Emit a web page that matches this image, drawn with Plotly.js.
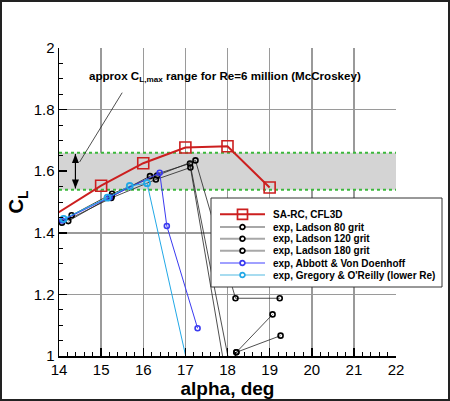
<!DOCTYPE html>
<html><head><meta charset="utf-8">
<script src="https://cdn.plot.ly/plotly-3.0.1.min.js"></script>
<style>
html,body{margin:0;padding:0;background:#fff}
#wrap{position:relative;width:450px;height:401px}
#chart{width:450px;height:401px}
#frame{position:absolute;left:0;top:0;width:450px;height:401px;box-sizing:border-box;border:2px solid #222;pointer-events:none}
</style>
</head><body><div id="wrap"><div id="chart"></div><div id="frame"></div></div>
<script>
// ---- data ----
const saAlpha   = [13, 15, 16, 17, 18, 19];
const saCL      = [1.381, 1.553, 1.626, 1.677, 1.681, 1.547];
const l80Alpha  = [14.07, 15.24, 16.30, 17.12, 17.97, 18.21, 19.26];
const l80CL     = [1.433, 1.513, 1.573, 1.612, 0.93, 1.012, 1.066];
const l120Alpha = [14.22, 15.25, 16.16, 17.11, 18.08, 18.21, 19.07];
const l120CL    = [1.438, 1.518, 1.584, 1.625, 0.95, 1.012, 1.135];
const l180Alpha = [14.30, 15.26, 16.33, 17.24, 18.19, 19.24];
const l180CL    = [1.457, 1.527, 1.586, 1.635, 1.1875, 1.1875];
const avdAlpha  = [14.08, 15.20, 16.39, 16.56, 17.29];
const avdCL     = [1.440, 1.515, 1.595, 1.422, 1.090];
const goAlpha   = [14.11, 15.15, 15.68, 16.09, 17.19];
const goCL      = [1.445, 1.514, 1.552, 1.561, 0.888];
const bandAlpha = [14, 22];
const bandCL    = [1.54, 1.66];
const seriesNames = ['SA-RC, CFL3D', 'exp, Ladson 80 grit', 'exp, Ladson 120 grit',
  'exp, Ladson 180 grit', 'exp, Abbott & Von Doenhoff', "exp, Gregory & O'Reilly (lower Re)"];
const noteText = 'approx C<sub>L,max</sub> range for Re=6 million (McCroskey)';

const FONT = 'Liberation Sans, Arial, Helvetica, sans-serif';
const RED = '#cc1f1f', BLUE = '#3a3af0', CYAN = '#22a8e6', GREEN = '#3cb83c';

function tr(x, y, name, lc, lw, sym, ms, mc, mlw) {
  return {x: x, y: y, name: name, type: 'scatter', mode: 'lines+markers',
    line: {color: lc, width: lw},
    marker: {symbol: sym, size: ms, color: mc, line: {color: mc, width: mlw}},
    showlegend: false, hoverinfo: 'skip'};
}
const traces = [
  {x: [bandAlpha[0], bandAlpha[1], bandAlpha[1], bandAlpha[0]], y: [bandCL[0], bandCL[0], bandCL[1], bandCL[1]],
   type: 'scatter', mode: 'none', fill: 'toself', fillcolor: '#d4d4d4', showlegend: false, hoverinfo: 'skip'},
  {x: bandAlpha, y: [bandCL[0], bandCL[0]], type: 'scatter', mode: 'lines',
   line: {color: GREEN, width: 2, dash: 'dot'}, showlegend: false, hoverinfo: 'skip'},
  {x: bandAlpha, y: [bandCL[1], bandCL[1]], type: 'scatter', mode: 'lines',
   line: {color: GREEN, width: 2, dash: 'dot'}, showlegend: false, hoverinfo: 'skip'},
  tr(l80Alpha, l80CL, seriesNames[1], '#222', 0.8, 'circle-open', 5, '#000', 1.6),
  tr(l120Alpha, l120CL, seriesNames[2], '#222', 0.8, 'circle-open', 5, '#000', 1.6),
  tr(l180Alpha, l180CL, seriesNames[3], '#222', 0.8, 'circle-open', 5, '#000', 1.6),
  tr(avdAlpha, avdCL, seriesNames[4], BLUE, 1, 'circle-open', 5, BLUE, 1.6),
  tr(goAlpha, goCL, seriesNames[5], CYAN, 1, 'circle-open', 6, CYAN, 1.8),
  tr(saAlpha, saCL, seriesNames[0], RED, 2, 'square-open', 11, RED, 1.6)
];

// plot area geometry
const M = {l: 59, r: 54, t: 48, b: 45};
const W = 450, H = 401;
const PW = W - M.l - M.r, PH = H - M.t - M.b;
const px2x = p => (p - M.l) / PW;
const px2y = p => (H - M.b - p) / PH;

const arrX = 14.39;
const shapes = [
  // leader line from note to arrow
  {type: 'line', xref: 'x', yref: 'y', x0: 15.50, y0: 1.855, x1: 14.49, y1: 1.63,
   line: {color: '#222', width: 0.8}, layer: 'above'},
  // double-headed arrow spanning the band
  {type: 'line', xref: 'x', yref: 'y', x0: arrX, x1: arrX, y0: bandCL[0] + 0.004, y1: bandCL[1] - 0.004,
   line: {color: '#000', width: 1.2}, layer: 'above'},
  {type: 'path', xref: 'x', yref: 'y', xsizemode: 'pixel', ysizemode: 'pixel',
   xanchor: arrX, yanchor: bandCL[1] - 0.004, path: 'M0,0 L-3.5,-9 L3.5,-9 Z',
   fillcolor: '#000', line: {width: 0}, layer: 'above'},
  {type: 'path', xref: 'x', yref: 'y', xsizemode: 'pixel', ysizemode: 'pixel',
   xanchor: arrX, yanchor: bandCL[0] + 0.004, path: 'M0,0 L-3.5,9 L3.5,9 Z',
   fillcolor: '#000', line: {width: 0}, layer: 'above'}
];

// custom legend
const legX0 = 211, legX1 = 442, legY0 = 198, legY1 = 287;
shapes.push({type: 'rect', xref: 'paper', yref: 'paper', x0: px2x(legX0), x1: px2x(legX1),
  y0: px2y(legY1), y1: px2y(legY0), fillcolor: '#fff', line: {color: '#333', width: 1}, layer: 'above'});
const rowY = [214.3, 227, 238.7, 250.7, 263, 275];
const legLineCol = [RED, '#a8a8a8', '#a8a8a8', '#a8a8a8', '#a0a0ff', '#a8dcf0'];
const legMarkCol = [RED, '#000', '#000', '#000', BLUE, CYAN];
const annotations = [];
seriesNames.forEach((n, i) => {
  const yy = px2y(rowY[i]);
  shapes.push({type: 'line', xref: 'paper', yref: 'paper', x0: px2x(220), x1: px2x(265), y0: yy, y1: yy,
    line: {color: legLineCol[i], width: 2}, layer: 'above'});
  const r = i === 0 ? 5 : 2.4;
  shapes.push({type: i === 0 ? 'rect' : 'circle', xref: 'paper', yref: 'paper',
    xsizemode: 'pixel', ysizemode: 'pixel', xanchor: px2x(242.5), yanchor: yy,
    x0: -r, x1: r, y0: -r, y1: r, fillcolor: i === 0 ? 'rgba(0,0,0,0)' : '#fff',
    line: {color: legMarkCol[i], width: 1.7}, layer: 'above'});
  annotations.push({xref: 'paper', yref: 'paper', x: px2x(271), y: yy, xanchor: 'left', yanchor: 'middle',
    text: n, showarrow: false, font: {family: FONT, size: 10, color: '#000', weight: 'bold'}});
});

annotations.push({xref: 'x', yref: 'y', x: 17.94, y: 1.907, text: noteText, showarrow: false,
  xanchor: 'center', yanchor: 'middle', font: {family: FONT, size: 11.6, color: '#000', weight: 'bold'}});

const layout = {
  width: W, height: H, margin: M, paper_bgcolor: '#fff', plot_bgcolor: '#fff',
  showlegend: false, font: {family: FONT, color: '#000'},
  xaxis: {range: [14, 22], dtick: 1, tick0: 14, ticks: 'inside', ticklen: 8, tickwidth: 1.5, tickcolor: '#000',
    minor: {dtick: 0.2, ticks: 'inside', ticklen: 4, tickwidth: 1, tickcolor: '#000', showgrid: false},
    showgrid: true, gridcolor: '#9a9a9a', gridwidth: 1.5, zeroline: false, ticklabelstandoff: -1,
    showline: true, linecolor: '#000', linewidth: 2, tickfont: {size: 15, family: FONT},
    title: {text: 'alpha, deg', font: {size: 19, weight: 'bold', family: FONT}, standoff: 0}},
  yaxis: {range: [1, 2], dtick: 0.2, tick0: 1, ticks: 'inside', ticklen: 8, tickwidth: 1.5, tickcolor: '#000',
    minor: {dtick: 0.05, ticks: 'inside', ticklen: 4, tickwidth: 1, tickcolor: '#000', showgrid: false},
    showgrid: true, gridcolor: '#9a9a9a', gridwidth: 1.5, zeroline: false,
    showline: true, linecolor: '#000', linewidth: 1.5, tickfont: {size: 15, family: FONT},
    title: {text: 'C<sub>L</sub>', font: {size: 20, weight: 'bold', family: FONT}, standoff: 4}},
  shapes: shapes, annotations: annotations
};
Plotly.newPlot('chart', traces, layout, {staticPlot: true, displayModeBar: false});
</script></body></html>
